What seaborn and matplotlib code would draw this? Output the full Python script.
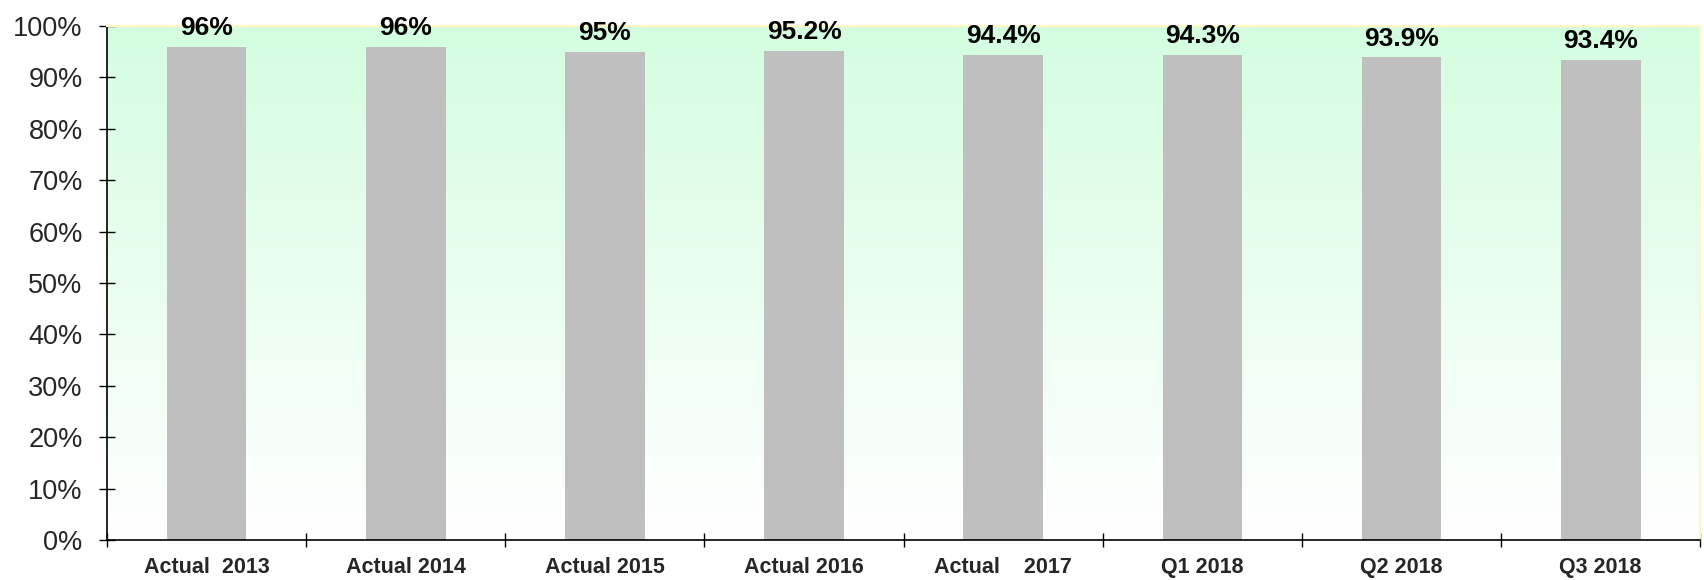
import numpy as np
import pandas as pd
import matplotlib
matplotlib.use("Agg")
import matplotlib.pyplot as plt
import seaborn as sns
from matplotlib.colors import LinearSegmentedColormap

# Data
categories = ["Actual  2013", "Actual 2014", "Actual 2015", "Actual 2016",
              "Actual    2017", "Q1 2018", "Q2 2018", "Q3 2018"]
values = [96, 96, 95, 95.2, 94.4, 94.3, 93.9, 93.4]
value_labels = ["96%", "96%", "95%", "95.2%", "94.4%", "94.3%", "93.9%", "93.4%"]
yticks = [0, 10, 20, 30, 40, 50, 60, 70, 80, 90, 100]

df = pd.DataFrame({"category": categories, "value": values})

sns.set_style("white")
plt.rcParams['font.family'] = ['Liberation Sans', 'DejaVu Sans']

fig = plt.figure(figsize=(17.04, 5.8), dpi=100)
ax = fig.add_axes([0.0628, 0.069, 0.935, 0.886])

# background gradient: light green at top fading to white
cmap = LinearSegmentedColormap.from_list("bg", ["#ffffff", "#d4fde0"])
grad = np.linspace(0, 1, 256).reshape(-1, 1)
ax.imshow(grad, aspect="auto", cmap=cmap, origin="lower",
          extent=[-0.5, len(categories) - 0.5, 0, 100], zorder=0)

sns.barplot(data=df, x="category", y="value", color="#bfbfbf",
            saturation=1, width=0.4, linewidth=0, ax=ax, zorder=2)

for i, (v, lab) in enumerate(zip(values, value_labels)):
    ax.annotate(lab, (i, v), xytext=(0, 5), textcoords="offset points",
                ha="center", va="bottom", fontsize=19, fontweight="bold",
                color="black", zorder=3)

ax.set_xlim(-0.5, len(categories) - 0.5)
ax.set_ylim(0, 100)
ax.set_yticks(yticks)
ax.set_yticklabels([f"{t}%" for t in yticks], fontsize=19.5)
ax.set_xticks(range(len(categories)))
ax.set_xticklabels(categories, fontsize=15.5, fontweight="bold")
ax.set_xlabel("")
ax.set_ylabel("")

# x ticks at category boundaries
ax.set_xticks(np.arange(-0.5, len(categories)), minor=True)
ax.tick_params(axis="x", which="major", bottom=False, length=0, pad=12)
ax.tick_params(axis="x", which="minor", bottom=True, direction="inout",
               length=10, width=1, color="black")
ax.tick_params(axis="y", left=True, direction="inout", length=11, width=1,
               pad=12, color="black")

for s in ["left", "bottom"]:
    ax.spines[s].set_color("black")
    ax.spines[s].set_linewidth(1.2)
for s in ["top", "right"]:
    ax.spines[s].set_color("#fff6c0")
    ax.spines[s].set_linewidth(1.5)

fig.savefig("out.png", dpi=100)
